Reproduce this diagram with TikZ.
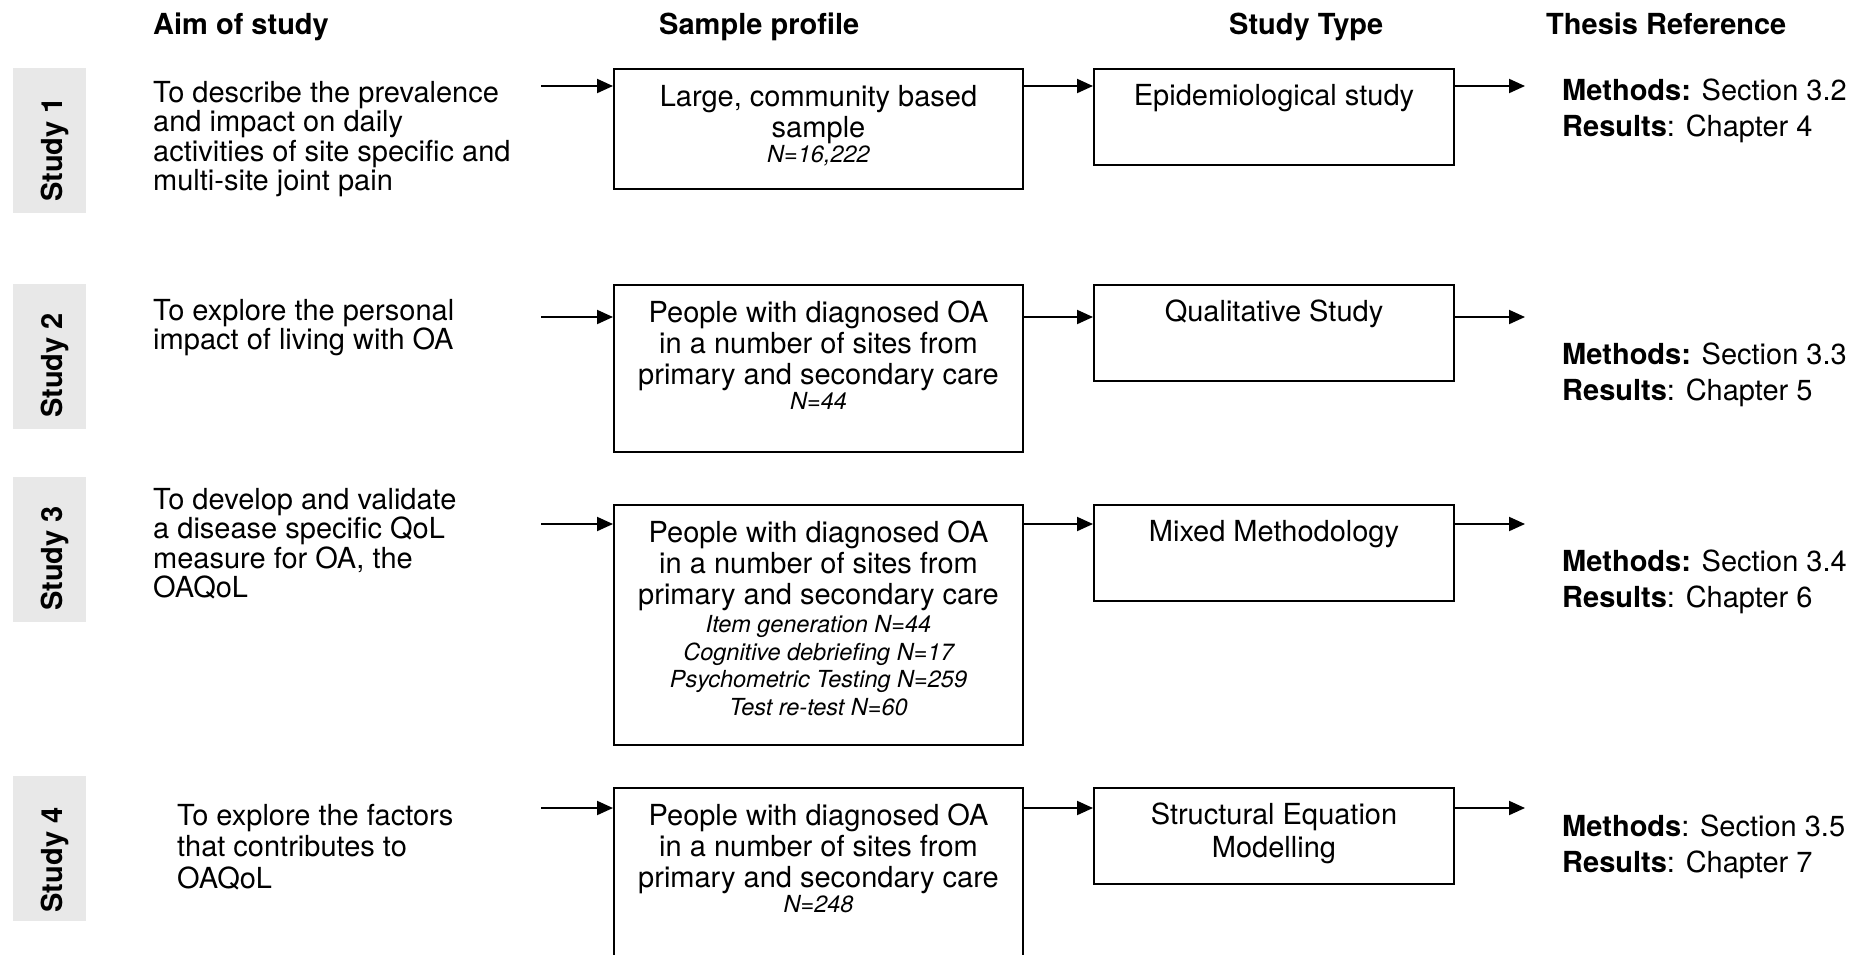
\documentclass[tikz,border=0pt]{standalone}
\usepackage{fontspec}
\setmainfont{TeX Gyre Heros}
\usetikzlibrary{arrows.meta}
\definecolor{tagfill}{HTML}{E8E8E8}
\tikzset{
  hdr/.style={inner sep=0pt, anchor=base west, font=\fontsize{29}{31}\selectfont\bfseries},
  aim/.style={inner sep=0pt, align=left, anchor=north west, font=\fontsize{29}{29.5}\selectfont},
  ref/.style={inner sep=0pt, align=left, anchor=north west, font=\fontsize{29}{36}\selectfont},
  tag/.style={fill=tagfill, inner sep=0pt, minimum width=73pt, minimum height=145pt},
  taglabel/.style={inner sep=0pt, rotate=90, anchor=base, font=\fontsize{29}{31}\selectfont\bfseries},
  sbox/.style={draw, line width=2pt, inner sep=0pt, anchor=north west, minimum width=409pt},
  tbox/.style={draw, line width=2pt, inner sep=0pt, anchor=north west, minimum width=360pt, minimum height=96pt},
  boxtext/.style={inner sep=0pt, align=center, anchor=north, font=\fontsize{29}{31}\selectfont},
  arr/.style={line width=2pt, -{Triangle[length=16pt,width=14pt]}},
}
\newcommand\nval[1]{{\itshape\fontsize{23.5}{27.7}\selectfont #1}}
\begin{document}
\begin{tikzpicture}[x=1pt, y=-1pt]
\clip (0,0) rectangle (1872,954);

% column headings
\node[hdr] (h1) at (153,34) {Aim of study};
\node[hdr] (h2) at (659,34) {Sample profile};
\node[hdr] (h3) at (1229,34) {Study Type};
\node[hdr] (h4) at (1546,34) {Thesis Reference};

% study tags
\node[tag] (g1) at (49.5,140.5) {};
\node[taglabel] (l1) at ([xshift=12.5pt,yshift=-9pt]g1.center) {Study 1};
\node[tag] (g2) at (49.5,356.5) {};
\node[taglabel] (l2) at ([xshift=12.5pt,yshift=-9pt]g2.center) {Study 2};
\node[tag] (g3) at (49.5,549.5) {};
\node[taglabel] (l3) at ([xshift=12.5pt,yshift=-9pt]g3.center) {Study 3};
\node[tag] (g4) at (49.5,848) {};
\node[taglabel] (l4) at ([xshift=12.5pt,yshift=-12pt]g4.center) {Study 4};

% aims
\node[aim] (a1) at (153,81) {To describe the prevalence\\and impact on daily\\activities of site specific and\\multi-site joint pain};
\node[aim] (a2) at (153,299) {To explore the personal\\impact of living with OA};
\node[aim] (a3) at (153,488) {To develop and validate\\a disease specific QoL\\measure for OA, the\\OAQoL};
\node[aim, font=\fontsize{29}{31.5}\selectfont] (a4) at (177,804) {To explore the factors\\that contributes to\\OAQoL};

% sample boxes
\node[sbox, minimum height=120pt] (s1) at (613,68) {};
\node[boxtext] (s1t) at ([yshift=-17pt]s1.north) {Large, community based\\sample\\[-6pt]\nval{N=16,222}};
\node[sbox, minimum height=167pt] (s2) at (613,284) {};
\node[boxtext] (s2t) at ([yshift=-17pt]s2.north) {People with diagnosed OA\\in a number of sites from\\primary and secondary care\\[-6pt]\nval{N=44}};
\node[sbox, minimum height=240pt] (s3) at (613,504) {};
\node[boxtext] (s3t) at ([yshift=-17pt]s3.north) {People with diagnosed OA\\in a number of sites from\\primary and secondary care\\[-3.3pt]\nval{Item generation N=44}\\[-3.3pt]\nval{Cognitive debriefing N=17}\\[-3.3pt]\nval{Psychometric Testing N=259}\\[-3.3pt]\nval{Test re-test N=60}};
\node[sbox, minimum height=230pt] (s4) at (613,787) {};
\node[boxtext] (s4t) at ([yshift=-17pt]s4.north) {People with diagnosed OA\\in a number of sites from\\primary and secondary care\\[-6pt]\nval{N=248}};

% study type boxes
\node[tbox] (t1) at (1093,68) {};
\node[boxtext] (t1t) at ([yshift=-16pt]t1.north) {Epidemiological study};
\node[tbox] (t2) at (1093,284) {};
\node[boxtext] (t2t) at ([yshift=-16pt]t2.north) {Qualitative Study};
\node[tbox] (t3) at (1093,504) {};
\node[boxtext] (t3t) at ([yshift=-16pt]t3.north) {Mixed Methodology};
\node[tbox] (t4) at (1093,787) {};
\node[boxtext, font=\fontsize{29}{33}\selectfont] (t4t) at ([yshift=-16pt]t4.north) {Structural Equation\\Modelling};

% thesis references
\node[ref] (r1) at (1562,79) {\textbf{Methods:} Section 3.2\\\textbf{Results}: Chapter 4};
\node[ref] (r2) at (1562,343) {\textbf{Methods:} Section 3.3\\\textbf{Results}: Chapter 5};
\node[ref] (r3) at (1562,550) {\textbf{Methods:} Section 3.4\\\textbf{Results}: Chapter 6};
\node[ref] (r4) at (1562,815) {\textbf{Methods}: Section 3.5\\\textbf{Results}: Chapter 7};

% arrow end points
\coordinate (p1) at (541,86);  \coordinate (q1) at (1525,86);
\coordinate (p2) at (541,317); \coordinate (q2) at (1525,317);
\coordinate (p3) at (541,524); \coordinate (q3) at (1525,524);
\coordinate (p4) at (541,808); \coordinate (q4) at (1525,808);

\foreach \i in {1,2,3,4}{
  \draw[arr] (p\i) -- (s\i.west |- p\i);
  \draw[arr] (s\i.east |- p\i) -- (t\i.west |- p\i);
  \draw[arr] (t\i.east |- p\i) -- (q\i);
}
\end{tikzpicture}
\end{document}
